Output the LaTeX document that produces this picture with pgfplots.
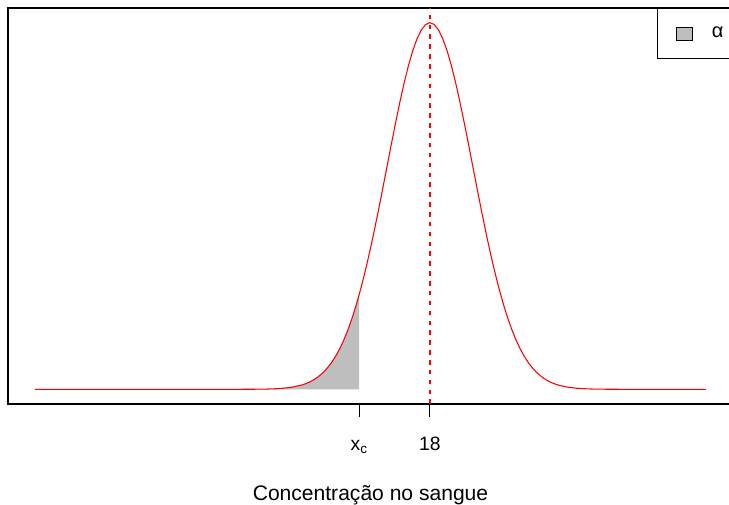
\documentclass[border=0pt]{standalone}
\usepackage{pgfplots}
\pgfplotsset{compat=1.18}
\usepackage{fontspec}
\setmainfont{Liberation Sans}
\definecolor{rgray}{HTML}{BEBEBE}
\definecolor{rred}{HTML}{FF0000}
\begin{document}
\fontsize{15pt}{18pt}\selectfont
\begin{tikzpicture}
\begin{axis}[
  scale only axis, width=543.75pt, height=297pt,
  at={(0,0)}, anchor=south west,
  xmin=8.186, xmax=25.05, ymin=-0.01596, ymax=0.4149,
  axis line style={line width=0.9pt},
  xtick={16.355,18}, xticklabels={x\textsubscript{c},18},
  ytick=\empty, xtick pos=bottom, tick align=outside, major tick length=9.75pt,
  tick style={line width=0.75pt, black},
  xticklabel style={anchor=base, yshift=-25.5pt, font=\fontsize{14.5pt}{17pt}\selectfont},
  xlabel={Concentração no sangue},
  xlabel style={at={(axis description cs:0.5,0)}, anchor=base, yshift=-72.75pt,
    font=\fontsize{15.8pt}{18pt}\selectfont},
  legend style={at={(rel axis cs:1,1)}, anchor=north east, draw=black,
    line width=0.9pt, inner sep=0pt, nodes={inner sep=0pt}, column sep=14.25pt},
]
% rejection region
\addplot[fill=rgray, draw=none, forget plot] coordinates {
(8.814,0) (13,0.0000015) (13.5,0.000016) (14,0.000134) (14.2,0.000292)
(14.4,0.000612) (14.6,0.001232) (14.8,0.002384) (15,0.004432) (15.1,0.005953)
(15.2,0.007915) (15.3,0.010421) (15.4,0.013583) (15.5,0.017528) (15.6,0.022395)
(15.7,0.028327) (15.8,0.035475) (15.9,0.043984) (16,0.053991) (16.1,0.065616)
(16.2,0.078950) (16.3,0.094049) (16.355,0.10312)
} \closedcycle;
% density
\addplot[rred, line width=0.8pt, forget plot] coordinates {
(8.814,0) (13,0.0000015) (13.5,0.000016) (14,0.000134) (14.2,0.000292)
(14.4,0.000612) (14.6,0.001232) (14.8,0.002384) (15,0.004432) (15.1,0.005953)
(15.2,0.007915) (15.3,0.010421) (15.4,0.013583) (15.5,0.017528) (15.6,0.022395)
(15.7,0.028327) (15.8,0.035475) (15.9,0.043984) (16,0.053991) (16.1,0.065616)
(16.2,0.078950) (16.3,0.094049) (16.4,0.110921) (16.5,0.129518) (16.6,0.149727)
(16.7,0.171369) (16.8,0.194186) (16.9,0.217852) (17,0.241971) (17.1,0.266085)
(17.2,0.289692) (17.3,0.312254) (17.4,0.333225) (17.5,0.352065) (17.6,0.368270)
(17.7,0.381388) (17.8,0.391043) (17.9,0.396953) (18,0.398942)
(18.1,0.396953) (18.2,0.391043) (18.3,0.381388) (18.4,0.368270) (18.5,0.352065)
(18.6,0.333225) (18.7,0.312254) (18.8,0.289692) (18.9,0.266085) (19,0.241971)
(19.1,0.217852) (19.2,0.194186) (19.3,0.171369) (19.4,0.149727) (19.5,0.129518)
(19.6,0.110921) (19.7,0.094049) (19.8,0.078950) (19.9,0.065616) (20,0.053991)
(20.1,0.043984) (20.2,0.035475) (20.3,0.028327) (20.4,0.022395) (20.5,0.017528)
(20.6,0.013583) (20.7,0.010421) (20.8,0.007915) (20.9,0.005953) (21,0.004432)
(21.2,0.002384) (21.4,0.001232) (21.6,0.000612) (21.8,0.000292) (22,0.000134)
(22.5,0.000016) (23,0.0000015) (24.42,0)
};
% mean under H0
\addplot[draw=rred, line width=0.9pt, dash pattern=on 3.4pt off 4pt, forget plot]
  coordinates {(18,-0.01596) (18,0.4149)};
\addlegendimage{legend image code/.code={
    \path[draw=none, fill=none] (-14.25pt,-18.75pt) rectangle (12pt,18.75pt);
    \draw[line width=0.75pt, draw=black, fill=rgray] (0pt,-4.875pt) rectangle (12pt,4.875pt);}}
\addlegendentry{α\hspace*{6.75pt}}
\end{axis}
\pgfresetboundingbox
\path[use as bounding box] (-6pt,-75.75pt) rectangle (540.75pt,303pt);
\end{tikzpicture}
\end{document}
